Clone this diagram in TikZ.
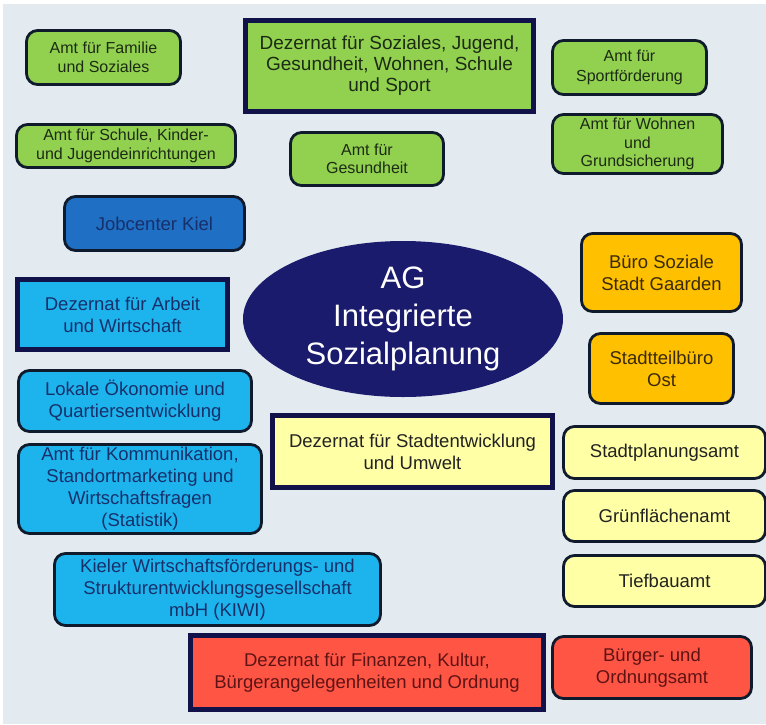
\documentclass[tikz,border=0pt]{standalone}
\usepackage{fontspec}
\setmainfont{Liberation Sans}
\usetikzlibrary{shapes.geometric}

\definecolor{bgblue}{HTML}{E3EBF0}
\definecolor{amtgreen}{HTML}{92D050}
\definecolor{jobblue}{HTML}{1F6FC4}
\definecolor{wirtblue}{HTML}{1DB4EE}
\definecolor{buerogelb}{HTML}{FFC000}
\definecolor{stadtgelb}{HTML}{FFFFA6}
\definecolor{finrot}{HTML}{FF5545}
\definecolor{agnavy}{HTML}{1B1B6E}
\definecolor{randnavy}{HTML}{12124A}
\definecolor{randdunkel}{HTML}{0F1B2C}
\definecolor{gruentext}{HTML}{1C2B14}
\definecolor{blautext}{HTML}{17306A}
\definecolor{rottext}{HTML}{5E1414}
\definecolor{orangetext}{HTML}{3A2A08}
\definecolor{gelbtext}{HTML}{222222}

\begin{document}
\begin{tikzpicture} [
	x=1pt, y=-1pt,
	every node/.style = {align=center, inner sep=1pt, font=\fontsize{18.5}{22}\selectfont},
	dim/.style 2 args = {minimum width=#1, minimum height=#2},
	amt/.style = {draw=randdunkel, line width=2.8pt, rounded corners=11pt},
	dezernat/.style = {draw=randnavy, line width=4.5pt},
	soziales/.style = {fill=amtgreen, text=gruentext, font=\fontsize{16}{18.5}\selectfont},
	wirtschaft/.style = {fill=wirtblue, text=blautext},
	stadt/.style = {fill=stadtgelb, text=gelbtext},
	buero/.style = {fill=buerogelb, text=orangetext},
	finanzen/.style = {fill=finrot, text=rottext}
]
% background
\fill [white] (0,0) rectangle (766,724);
\fill [bgblue] (3,4) rectangle (766,724);
\useasboundingbox (0,0) rectangle (766,724);

% centre
\node [ellipse, fill=agnavy, text=white, dim={320}{156}, font=\fontsize{31}{38}\selectfont] (ag) at (403,319) {AG\\Integrierte\\Sozialplanung};

% Soziales, Jugend, Gesundheit
\node [soziales, dezernat, dim={288}{91}, font=\fontsize{19}{21}\selectfont] (dezsoz) at (389.5,66) {Dezernat für Soziales, Jugend,\\Gesundheit, Wohnen, Schule\\und Sport};
\node [soziales, amt, dim={154}{54}] (famsoz) at (103.5,57.5) {Amt für Familie\\und Soziales};
\node [soziales, amt, dim={154}{54}, font=\fontsize{16}{20.5}\selectfont] (sport) at (629.5,67.5) {Amt für\\Sportförderung};
\node [soziales, amt, dim={219}{43}] (schule) at (126,146) {Amt für Schule, Kinder-\\und Jugendeinrichtungen};
\node [soziales, amt, dim={153}{53}] (gesund) at (367,159) {Amt für\\Gesundheit};
\node [soziales, amt, dim={170}{59}] (wohnen) at (637.5,144) {Amt für Wohnen\\und\\Grundsicherung};

% Arbeit und Wirtschaft
\node [amt, fill=jobblue, text=blautext, dim={180}{54}] (jobc) at (154.5,223.5) {Jobcenter Kiel};
\node [wirtschaft, dezernat, dim={210}{70}] (dezarb) at (122.5,314.5) {Dezernat für Arbeit\\und Wirtschaft};
\node [wirtschaft, amt, dim={233}{61}] (lokal) at (135,401) {Lokale Ökonomie und\\Quartiersentwicklung};
\node [wirtschaft, amt, dim={243}{89}] (komm) at (140,489) {Amt für Kommunikation,\\Standortmarketing und\\Wirtschaftsfragen\\(Statistik)};
\node [wirtschaft, amt, dim={326}{72}] (kiwi) at (217.5,589.5) {Kieler Wirtschaftsförderungs- und\\Strukturentwicklungsgesellschaft\\mbH (KIWI)};

% Soziale Stadt
\node [buero, amt, dim={160}{78}] (gaarden) at (661.5,272.5) {Büro Soziale\\Stadt Gaarden};
\node [buero, amt, dim={144}{70}] (ost) at (661.5,368.5) {Stadtteilbüro\\Ost};

% Stadtentwicklung und Umwelt
\node [stadt, dezernat, dim={280}{72}] (dezstadt) at (412.5,451.5) {Dezernat für Stadtentwicklung\\und Umwelt};
\node [stadt, amt, dim={202}{52}] (stplan) at (664.5,452.5) {Stadtplanungsamt};
\node [stadt, amt, dim={202}{51}] (gruenfl) at (664.5,516) {Grünflächenamt};
\node [stadt, amt, dim={202}{51}] (tiefbau) at (664.5,581) {Tiefbauamt};

% Finanzen, Kultur, Ordnung
\node [finanzen, dezernat, dim={353}{74}] (dezfin) at (367,672.5) {Dezernat für Finanzen, Kultur,\\Bürgerangelegenheiten und Ordnung};
\node [finanzen, amt, dim={199}{62}] (ordamt) at (652,667.5) {Bürger- und\\Ordnungsamt};
\end{tikzpicture}
\end{document}
